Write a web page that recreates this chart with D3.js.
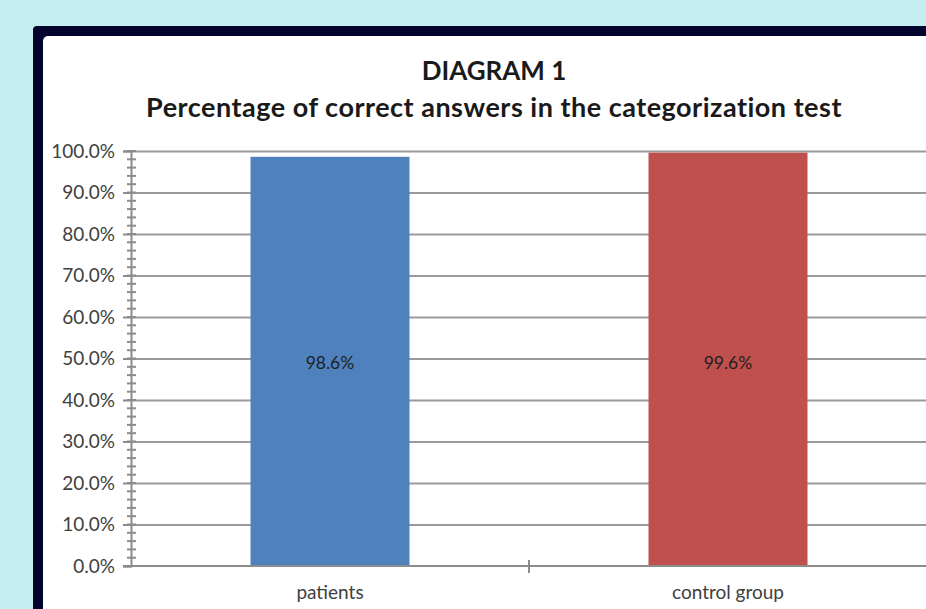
<!DOCTYPE html>
<html>
<head>
<meta charset="utf-8">
<script src="https://cdn.jsdelivr.net/npm/d3@7"></script>
<style>
  body { margin: 0; background: #c4eef0; font-family: Lato, "Open Sans", sans-serif; }
  .grid line { stroke: #9a9a9a; stroke-width: 2; }
  .grid path { stroke-width: 0; }
  .axis path, .axis line { stroke: #8c8c8c; stroke-width: 2; fill: none; }
  .axis text { fill: #404040; font-size: 19px; font-family: Lato, sans-serif; }
</style>
</head>
<body>
<script>
// data
var categories = ["patients", "control group"];
var values = [0.986, 0.996];
var colors = ["#4f81bd", "#c0504d"];
var yTicks = [0, 0.1, 0.2, 0.3, 0.4, 0.5, 0.6, 0.7, 0.8, 0.9, 1.0];
var titleLines = ["DIAGRAM 1", "Percentage of correct answers in the categorization test"];

var W = 926, H = 609;
var svg = d3.select("body").append("svg")
  .attr("width", W).attr("height", H);

// frame
svg.append("rect")
  .attr("x", 33).attr("y", 26).attr("width", 960).attr("height", 640)
  .attr("rx", 4).attr("fill", "#03032e");
svg.append("rect")
  .attr("x", 43).attr("y", 36).attr("width", 940).attr("height", 620)
  .attr("rx", 5).attr("fill", "#ffffff");

var margin = {left: 131, top: 151, bottom: 566, right: 927};

var x = d3.scaleBand()
  .domain(categories)
  .range([margin.left, margin.right])
  .paddingInner(0).paddingOuter(0);
var y = d3.scaleLinear().domain([0, 1]).range([margin.bottom, margin.top]);

// gridlines
svg.append("g")
  .attr("class", "grid")
  .attr("transform", "translate(" + margin.left + ",0)")
  .call(d3.axisLeft(y).tickValues(yTicks.slice(1)).tickSize(-(W - margin.left)).tickFormat(""));

// bars
var barW = 159;
svg.selectAll(".bar")
  .data(values)
  .enter().append("rect")
  .attr("class", "bar")
  .attr("x", function(d, i) { return x(categories[i]) + x.bandwidth() / 2 - barW / 2; })
  .attr("width", barW)
  .attr("y", function(d) { return y(d); })
  .attr("height", function(d) { return y(0) - y(d); })
  .attr("fill", function(d, i) { return colors[i]; });

// value labels
svg.selectAll(".val")
  .data(values)
  .enter().append("text")
  .attr("x", function(d, i) { return x(categories[i]) + x.bandwidth() / 2; })
  .attr("y", 369)
  .attr("text-anchor", "middle")
  .style("font-size", "17.5px")
  .style("fill", "#1f1f1f")
  .text(function(d) { return d3.format(".1%")(d); });

// y axis minor ticks
var minor = d3.range(0, 1.0001, 0.02);
svg.append("g")
  .attr("class", "axis")
  .selectAll("line").data(minor).enter().append("line")
  .attr("x1", margin.left - 4).attr("x2", margin.left + 5)
  .attr("y1", function(d) { return y(d); }).attr("y2", function(d) { return y(d); });

// y axis
var yAxis = d3.axisLeft(y).tickValues(yTicks).tickSize(8).tickPadding(8)
  .tickFormat(d3.format(".1%"));
svg.append("g")
  .attr("class", "axis")
  .attr("transform", "translate(" + margin.left + ",0)")
  .call(yAxis);

// x axis
var xg = svg.append("g")
  .attr("class", "axis")
  .attr("transform", "translate(0," + margin.bottom + ")");
xg.append("line")
  .attr("x1", margin.left - 8).attr("x2", W).attr("y1", 0).attr("y2", 0);
xg.selectAll(".xt")
  .data([x.range()[0] + x.bandwidth()])
  .enter().append("line")
  .attr("x1", function(d) { return d; }).attr("x2", function(d) { return d; })
  .attr("y1", -6).attr("y2", 7);
xg.selectAll(".xl")
  .data(categories)
  .enter().append("text")
  .attr("x", function(d) { return x(d) + x.bandwidth() / 2; })
  .attr("y", 33)
  .attr("text-anchor", "middle")
  .text(function(d) { return d; });

// title
svg.selectAll(".title")
  .data(titleLines)
  .enter().append("text")
  .attr("x", 494)
  .attr("y", function(d, i) { return 80 + i * 37; })
  .attr("text-anchor", "middle")
  .style("font-size", function(d, i) { return i ? "27px" : "26px"; })
  .style("letter-spacing", function(d, i) { return i ? "0.5px" : "0"; })
  .style("font-weight", "bold")
  .style("fill", "#1a1a1a")
  .text(function(d) { return d; });
</script>
</body>
</html>
